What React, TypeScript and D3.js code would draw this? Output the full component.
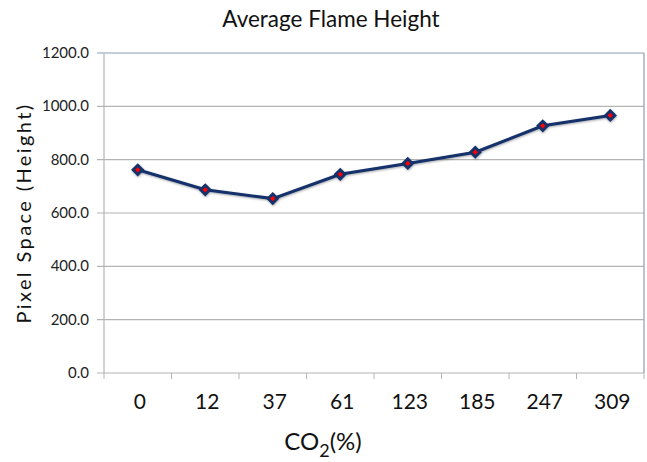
import React from "react";
import * as d3 from "d3";

const categories = ["0", "12", "37", "61", "123", "185", "247", "309"];
const values = [762, 687, 654, 745, 786, 828, 927, 966];
const yTicks = [0, 200, 400, 600, 800, 1000, 1200];

const W = 647, H = 462;
const m = { left: 104, right: 644, top: 53, bottom: 373 };

export default function App() {
  const x = d3.scaleBand().domain(categories).range([m.left, m.right]);
  const y = d3.scaleLinear().domain([0, 1200]).range([m.bottom, m.top]);
  const line = d3.line<number>()
    .x((_, i) => (x(categories[i]) as number) + x.bandwidth() / 2)
    .y(d => y(d));
  const font = "Lato, 'Open Sans', sans-serif";
  const diamond = d3.symbol().type(d3.symbolSquare).size(88)() as string;
  const diamondIn = d3.symbol().type(d3.symbolSquare).size(14)() as string;
  return (
    <svg width={W} height={H} style={{ position: "absolute", left: 0, top: 0, background: "#fff" }} fontFamily={font}>
      <defs>
        <filter id="sh" x="-50%" y="-50%" width="200%" height="200%">
          <feDropShadow dx="0.5" dy="1" stdDeviation="1" floodColor="#000" floodOpacity="0.35" />
        </filter>
      </defs>
      <text x={331} y={27} textAnchor="middle" fontSize={22.5} fill="#111">Average Flame Height</text>
      {yTicks.map(t => (
        <g key={t}>
          <line x1={m.left - 7} x2={m.right} y1={y(t)} y2={y(t)}
            stroke={t === 1200 ? "#8e9cb6" : "#b4b4b4"} strokeWidth={1.2} />
          <text x={89} y={y(t) + 5} textAnchor="end" fontSize={15} fill="#222">{t.toFixed(1)}</text>
        </g>
      ))}
      <line x1={m.left} x2={m.left} y1={m.top} y2={m.bottom} stroke="#b4b4b4" strokeWidth={1.2} />
      <line x1={m.right} x2={m.right} y1={m.top} y2={m.bottom} stroke="#8e9cb6" strokeWidth={1.2} />
      {categories.map(c => (
        <line key={"t" + c} x1={(x(c) as number)} x2={(x(c) as number)} y1={m.bottom} y2={m.bottom + 6} stroke="#b4b4b4" />
      ))}
      <line x1={m.right} x2={m.right} y1={m.bottom} y2={m.bottom + 6} stroke="#b4b4b4" />
      {categories.map(c => (
        <text key={"l" + c} x={(x(c) as number) + x.bandwidth() / 2 + 2} y={409} textAnchor="middle" fontSize={21} fill="#111">{c}</text>
      ))}
      <text transform={`translate(31,${213}) rotate(-90)`} textAnchor="middle" fontSize={20} letterSpacing={2.4} fill="#111">Pixel  Space (Height)</text>
      <text x={323} y={450} textAnchor="middle" fontSize={24} fill="#111">
        CO<tspan fontSize={18} dy={7}>2</tspan><tspan dy={-7}>(%)</tspan>
      </text>
      <g filter="url(#sh)">
        <path d={line(values) as string} fill="none" stroke="#14306b" strokeWidth={3} />
        {values.map((v, i) => {
          const cx = (x(categories[i]) as number) + x.bandwidth() / 2;
          return (
            <g key={i} transform={`translate(${cx},${y(v)}) rotate(45)`}>
              <path d={diamond} fill="#14306b" />
              <path d={diamondIn} fill="#ff0000" />
            </g>
          );
        })}
      </g>
    </svg>
  );
}
